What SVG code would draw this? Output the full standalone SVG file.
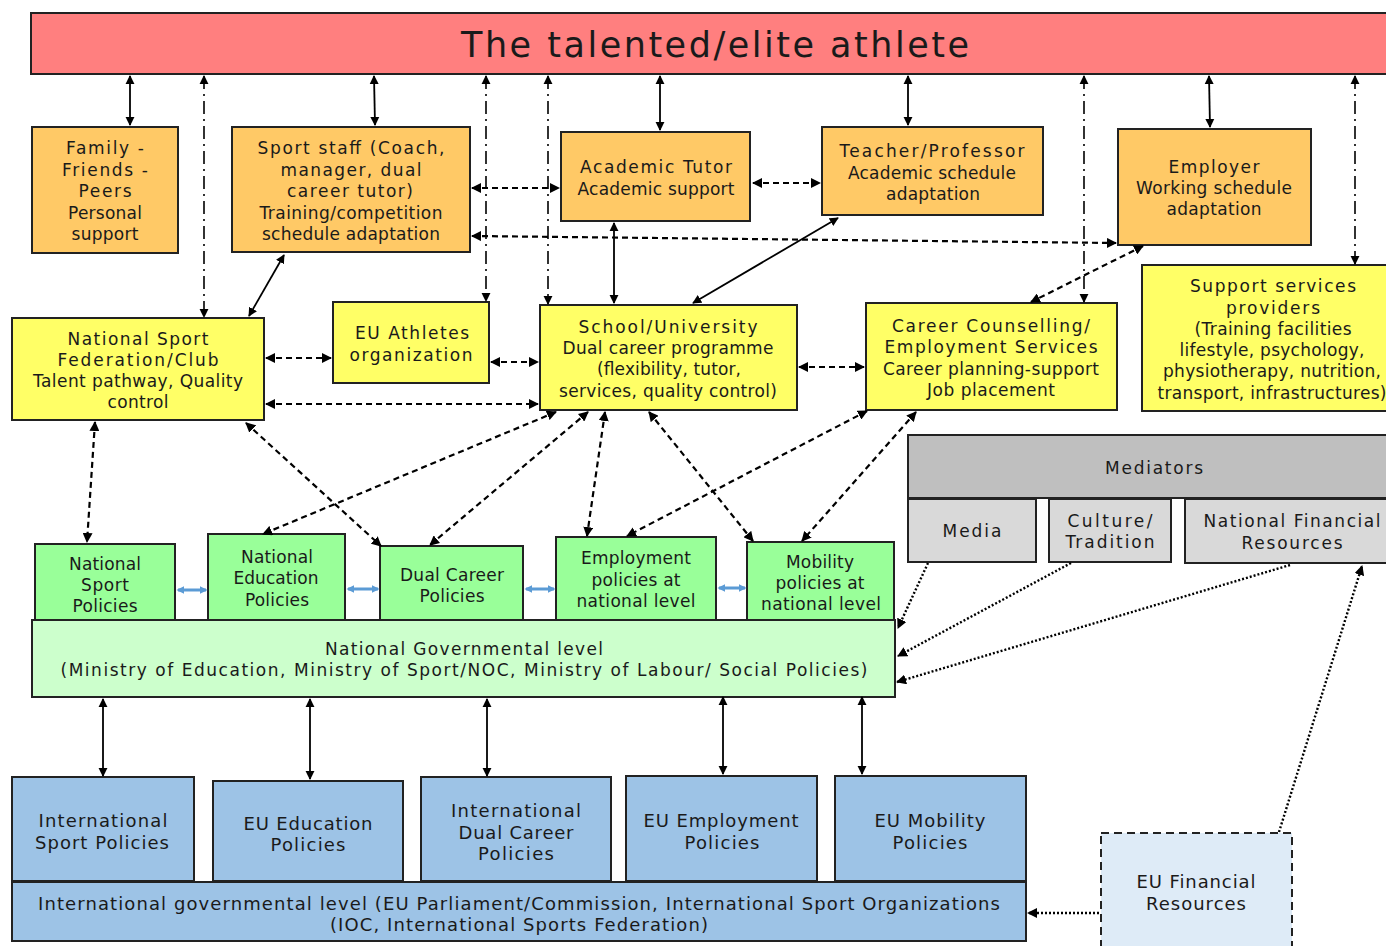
<svg xmlns="http://www.w3.org/2000/svg" width="1386" height="946" viewBox="0 0 1386 946">
<defs>
<marker id="ah" viewBox="0 0 10 10" refX="9" refY="5" markerWidth="9" markerHeight="10" markerUnits="userSpaceOnUse" orient="auto-start-reverse"><path d="M0,0 L10,5 L0,10 z" fill="#000"/></marker>
<marker id="ahb" viewBox="0 0 10 10" refX="9" refY="5" markerWidth="10" markerHeight="10" markerUnits="userSpaceOnUse" orient="auto-start-reverse"><path d="M0,0 L10,5 L0,10 z" fill="#000"/></marker>
<marker id="bh" viewBox="0 0 10 10" refX="8" refY="5" markerWidth="8" markerHeight="10" markerUnits="userSpaceOnUse" orient="auto-start-reverse"><path d="M0,0 L10,5 L0,10 z" fill="#5B9BD5"/></marker>
<style>
rect{stroke:#222;stroke-width:2}
.t{font-family:"DejaVu Sans",Verdana,sans-serif;font-size:17px;fill:#1a1a1a;text-anchor:middle;dominant-baseline:central}
.b{font-size:18px}
.or{fill:#FFC966}.ye{fill:#FFFF66}.gr{fill:#99FF99}.lg{fill:#CCFFCC}.bl{fill:#9DC3E6}.gy{fill:#BFBFBF}.lgy{fill:#D9D9D9}
.sol{stroke:#000;stroke-width:1.8;fill:none;marker-start:url(#ah);marker-end:url(#ah)}
.dd{stroke:#000;stroke-width:1.6;fill:none;stroke-dasharray:13 5 2 5;marker-start:url(#ah);marker-end:url(#ah)}
.da{stroke:#000;stroke-width:2.2;fill:none;stroke-dasharray:6 4;marker-start:url(#ahb);marker-end:url(#ahb)}
.dt{stroke:#000;stroke-width:2.4;fill:none;stroke-dasharray:2 2;marker-end:url(#ahb)}
.bd{stroke:#5B9BD5;stroke-width:3;fill:none;marker-start:url(#bh);marker-end:url(#bh)}
</style>
</defs>
<rect width="1386" height="946" fill="#fff" style="stroke:none"/>

<g id="athlete"><rect x="31" y="13" width="1360" height="61" fill="#FF7F7F"/><text class="t" x="715" y="45" style="font-size:35px" textLength="508" lengthAdjust="spacing">The talented/elite athlete</text></g>

<g id="family"><rect class="or" x="32" y="127" width="146" height="126"/>
<text class="t" x="105" y="148" textLength="78">Family -</text><text class="t" x="105" y="170" textLength="86">Friends -</text><text class="t" x="105" y="191" textLength="53">Peers</text><text class="t" x="105" y="213" textLength="74">Personal</text><text class="t" x="105" y="234" textLength="67">support</text></g>

<g id="sportstaff"><rect class="or" x="232" y="127" width="238" height="125"/>
<text class="t" x="351" y="148" textLength="187">Sport staff (Coach,</text><text class="t" x="351" y="170" textLength="141">manager, dual</text><text class="t" x="350" y="191" textLength="126">career tutor)</text><text class="t" x="351" y="213" textLength="183">Training/competition</text><text class="t" x="351" y="234" textLength="178">schedule adaptation</text></g>

<g id="tutor"><rect class="or" x="561" y="132" width="189" height="89"/>
<text class="t" x="656" y="167" textLength="152">Academic Tutor</text><text class="t" x="656" y="189" textLength="157">Academic support</text></g>

<g id="teacher"><rect class="or" x="822" y="127" width="221" height="88"/>
<text class="t" x="932" y="151" textLength="185">Teacher/Professor</text><text class="t" x="932" y="173" textLength="168">Academic schedule</text><text class="t" x="933" y="194" textLength="94">adaptation</text></g>

<g id="employer"><rect class="or" x="1118" y="129" width="193" height="116"/>
<text class="t" x="1214" y="167" textLength="91">Employer</text><text class="t" x="1214" y="188" textLength="156">Working schedule</text><text class="t" x="1214" y="209" textLength="95">adaptation</text></g>

<g id="nsf"><rect class="ye" x="12" y="318" width="252" height="102"/>
<text class="t" x="138" y="339" textLength="141">National Sport</text><text class="t" x="138" y="360" textLength="161">Federation/Club</text><text class="t" x="138" y="381" textLength="210">Talent pathway, Quality</text><text class="t" x="138" y="402" textLength="61">control</text></g>

<g id="euathletes"><rect class="ye" x="333" y="302" width="156" height="81"/>
<text class="t" x="412" y="333" textLength="114">EU Athletes</text><text class="t" x="411" y="355" textLength="123">organization</text></g>

<g id="school"><rect class="ye" x="540" y="305" width="257" height="105"/>
<text class="t" x="668" y="327" textLength="179">School/University</text><text class="t" x="668" y="348" textLength="211">Dual career programme</text><text class="t" x="669" y="369" textLength="144">(flexibility, tutor,</text><text class="t" x="668" y="391" textLength="218">services, quality control)</text></g>

<g id="career"><rect class="ye" x="866" y="303" width="251" height="107"/>
<text class="t" x="991" y="326" textLength="198">Career Counselling/</text><text class="t" x="991" y="347" textLength="213">Employment Services</text><text class="t" x="991" y="369" textLength="216">Career planning-support</text><text class="t" x="991" y="390" textLength="128">Job placement</text></g>

<g id="support"><rect class="ye" x="1142" y="265" width="260" height="146"/>
<text class="t" x="1273" y="286" textLength="166">Support services</text><text class="t" x="1273" y="308" textLength="94">providers</text><text class="t" x="1273" y="329" textLength="157">(Training facilities</text><text class="t" x="1272" y="350" textLength="185">lifestyle, psychology,</text><text class="t" x="1272" y="371" textLength="218">physiotherapy, nutrition,</text><text class="t" x="1272" y="393" textLength="229">transport, infrastructures)</text></g>

<g id="mediators"><rect class="gy" x="908" y="435" width="490" height="63"/><text class="t" x="1154" y="468" textLength="98">Mediators</text></g>
<g id="media"><rect class="lgy" x="908" y="499" width="128" height="63"/><text class="t" x="972" y="531" textLength="59">Media</text></g>
<g id="culture"><rect class="lgy" x="1049" y="499" width="122" height="63"/><text class="t" x="1110" y="521" textLength="85">Culture/</text><text class="t" x="1110" y="542" textLength="89">Tradition</text></g>
<g id="natfin"><rect class="lgy" x="1185" y="499" width="213" height="64"/><text class="t" x="1292" y="521" textLength="177">National Financial</text><text class="t" x="1292" y="543" textLength="101">Resources</text></g>

<g id="natsportpol"><rect class="gr" x="35" y="544" width="140" height="76"/>
<text class="t" x="105" y="564" textLength="72">National</text><text class="t" x="105" y="585" textLength="48">Sport</text><text class="t" x="105" y="606" textLength="65">Policies</text></g>
<g id="nateducpol"><rect class="gr" x="208" y="534" width="137" height="86"/>
<text class="t" x="277" y="557" textLength="72">National</text><text class="t" x="276" y="578" textLength="85">Education</text><text class="t" x="277" y="600" textLength="64">Policies</text></g>
<g id="dualcareerpol"><rect class="gr" x="380" y="546" width="143" height="74"/>
<text class="t" x="452" y="575" textLength="104">Dual Career</text><text class="t" x="452" y="596" textLength="65">Policies</text></g>
<g id="employpol"><rect class="gr" x="556" y="537" width="160" height="83"/>
<text class="t" x="636" y="558" textLength="110">Employment</text><text class="t" x="636" y="580" textLength="89">policies at</text><text class="t" x="636" y="601" textLength="119">national level</text></g>
<g id="mobilitypol"><rect class="gr" x="747" y="542" width="147" height="78"/>
<text class="t" x="820" y="562" textLength="68">Mobility</text><text class="t" x="820" y="583" textLength="89">policies at</text><text class="t" x="821" y="604" textLength="120">national level</text></g>

<g id="natgov"><rect class="lg" x="32" y="620" width="863" height="77"/>
<text class="t" x="464" y="649" textLength="278">National Governmental level</text><text class="t" x="464" y="670" textLength="807">(Ministry of Education, Ministry of Sport/NOC, Ministry of Labour/ Social Policies)</text></g>

<g id="intsportpol"><rect class="bl" x="12" y="777" width="182" height="104"/>
<text class="t b" x="103" y="820" textLength="129">International</text><text class="t b" x="102" y="842" textLength="134">Sport Policies</text></g>
<g id="eueducpol"><rect class="bl" x="213" y="781" width="190" height="100"/>
<text class="t b" x="308" y="823" textLength="129">EU Education</text><text class="t b" x="308" y="844" textLength="75">Policies</text></g>
<g id="intdualpol"><rect class="bl" x="421" y="777" width="190" height="104"/>
<text class="t b" x="516" y="810" textLength="130">International</text><text class="t b" x="516" y="832" textLength="115">Dual Career</text><text class="t b" x="516" y="853" textLength="76">Policies</text></g>
<g id="euemploypol"><rect class="bl" x="626" y="776" width="191" height="105"/>
<text class="t b" x="721" y="820" textLength="155">EU Employment</text><text class="t b" x="722" y="842" textLength="75">Policies</text></g>
<g id="eumobilitypol"><rect class="bl" x="835" y="776" width="191" height="105"/>
<text class="t b" x="930" y="820" textLength="111">EU Mobility</text><text class="t b" x="930" y="842" textLength="75">Policies</text></g>
<g id="intgov"><rect class="bl" x="12" y="882" width="1014" height="59"/>
<text class="t b" x="519" y="903" textLength="962">International governmental level (EU Parliament/Commission, International Sport Organizations</text><text class="t b" x="519" y="924" textLength="378">(IOC, International Sports Federation)</text></g>

<g id="eufin"><rect x="1101" y="833" width="191" height="120" fill="#DEEBF7" stroke-dasharray="8 5"/>
<text class="t b" x="1196" y="881" textLength="119">EU Financial</text><text class="t b" x="1196" y="903" textLength="100">Resources</text></g>

<g id="connectors">
<line class="sol" x1="130" y1="76" x2="130" y2="125"/>
<line class="sol" x1="374" y1="76" x2="375" y2="125"/>
<line class="sol" x1="660" y1="76" x2="660" y2="130"/>
<line class="sol" x1="908" y1="76" x2="908" y2="125"/>
<line class="sol" x1="1209" y1="76" x2="1210" y2="127"/>
<line class="dd" x1="204" y1="76" x2="204" y2="317"/>
<line class="dd" x1="486" y1="76" x2="486" y2="301"/>
<line class="dd" x1="548" y1="76" x2="548" y2="304"/>
<line class="dd" x1="1084" y1="76" x2="1084" y2="302"/>
<line class="dd" x1="1355" y1="76" x2="1355" y2="264"/>

<line class="da" x1="472" y1="188" x2="559" y2="188"/>
<line class="da" x1="753" y1="183" x2="820" y2="183"/>
<line class="da" x1="472" y1="236" x2="1116" y2="243"/>
<line class="da" x1="1143" y1="246" x2="1031" y2="302"/>
<line class="da" x1="266" y1="358" x2="331" y2="358"/>
<line class="da" x1="491" y1="362" x2="538" y2="362"/>
<line class="da" x1="266" y1="404" x2="538" y2="404"/>
<line class="da" x1="799" y1="367" x2="864" y2="367"/>
<line class="da" x1="95" y1="422" x2="87" y2="542"/>
<line class="da" x1="246" y1="423" x2="381" y2="546"/>
<line class="da" x1="556" y1="412" x2="263" y2="534"/>
<line class="da" x1="588" y1="412" x2="430" y2="545"/>
<line class="da" x1="605" y1="412" x2="587" y2="536"/>
<line class="da" x1="649" y1="412" x2="753" y2="541"/>
<line class="da" x1="867" y1="411" x2="627" y2="536"/>
<line class="da" x1="916" y1="412" x2="802" y2="541"/>

<line class="sol" x1="284" y1="255" x2="249" y2="316"/>
<line class="sol" x1="614" y1="223" x2="614" y2="303"/>
<line class="sol" x1="838" y1="218" x2="693" y2="303"/>

<line class="bd" x1="178" y1="590" x2="206" y2="590"/>
<line class="bd" x1="348" y1="589" x2="378" y2="589"/>
<line class="bd" x1="526" y1="589" x2="554" y2="589"/>
<line class="bd" x1="719" y1="588" x2="745" y2="588"/>

<line class="dt" x1="928" y1="563" x2="898" y2="628"/>
<line class="dt" x1="1071" y1="563" x2="898" y2="656"/>
<line class="dt" x1="1290" y1="565" x2="897" y2="682"/>
<line class="dt" x1="1279" y1="832" x2="1362" y2="566"/>
<line class="dt" x1="1099" y1="913" x2="1028" y2="913"/>

<line class="sol" x1="103" y1="699" x2="103" y2="776"/>
<line class="sol" x1="310" y1="699" x2="310" y2="779"/>
<line class="sol" x1="487" y1="699" x2="487" y2="776"/>
<line class="sol" x1="723" y1="697" x2="723" y2="774"/>
<line class="sol" x1="862" y1="697" x2="862" y2="774"/>
</g>
</svg>
